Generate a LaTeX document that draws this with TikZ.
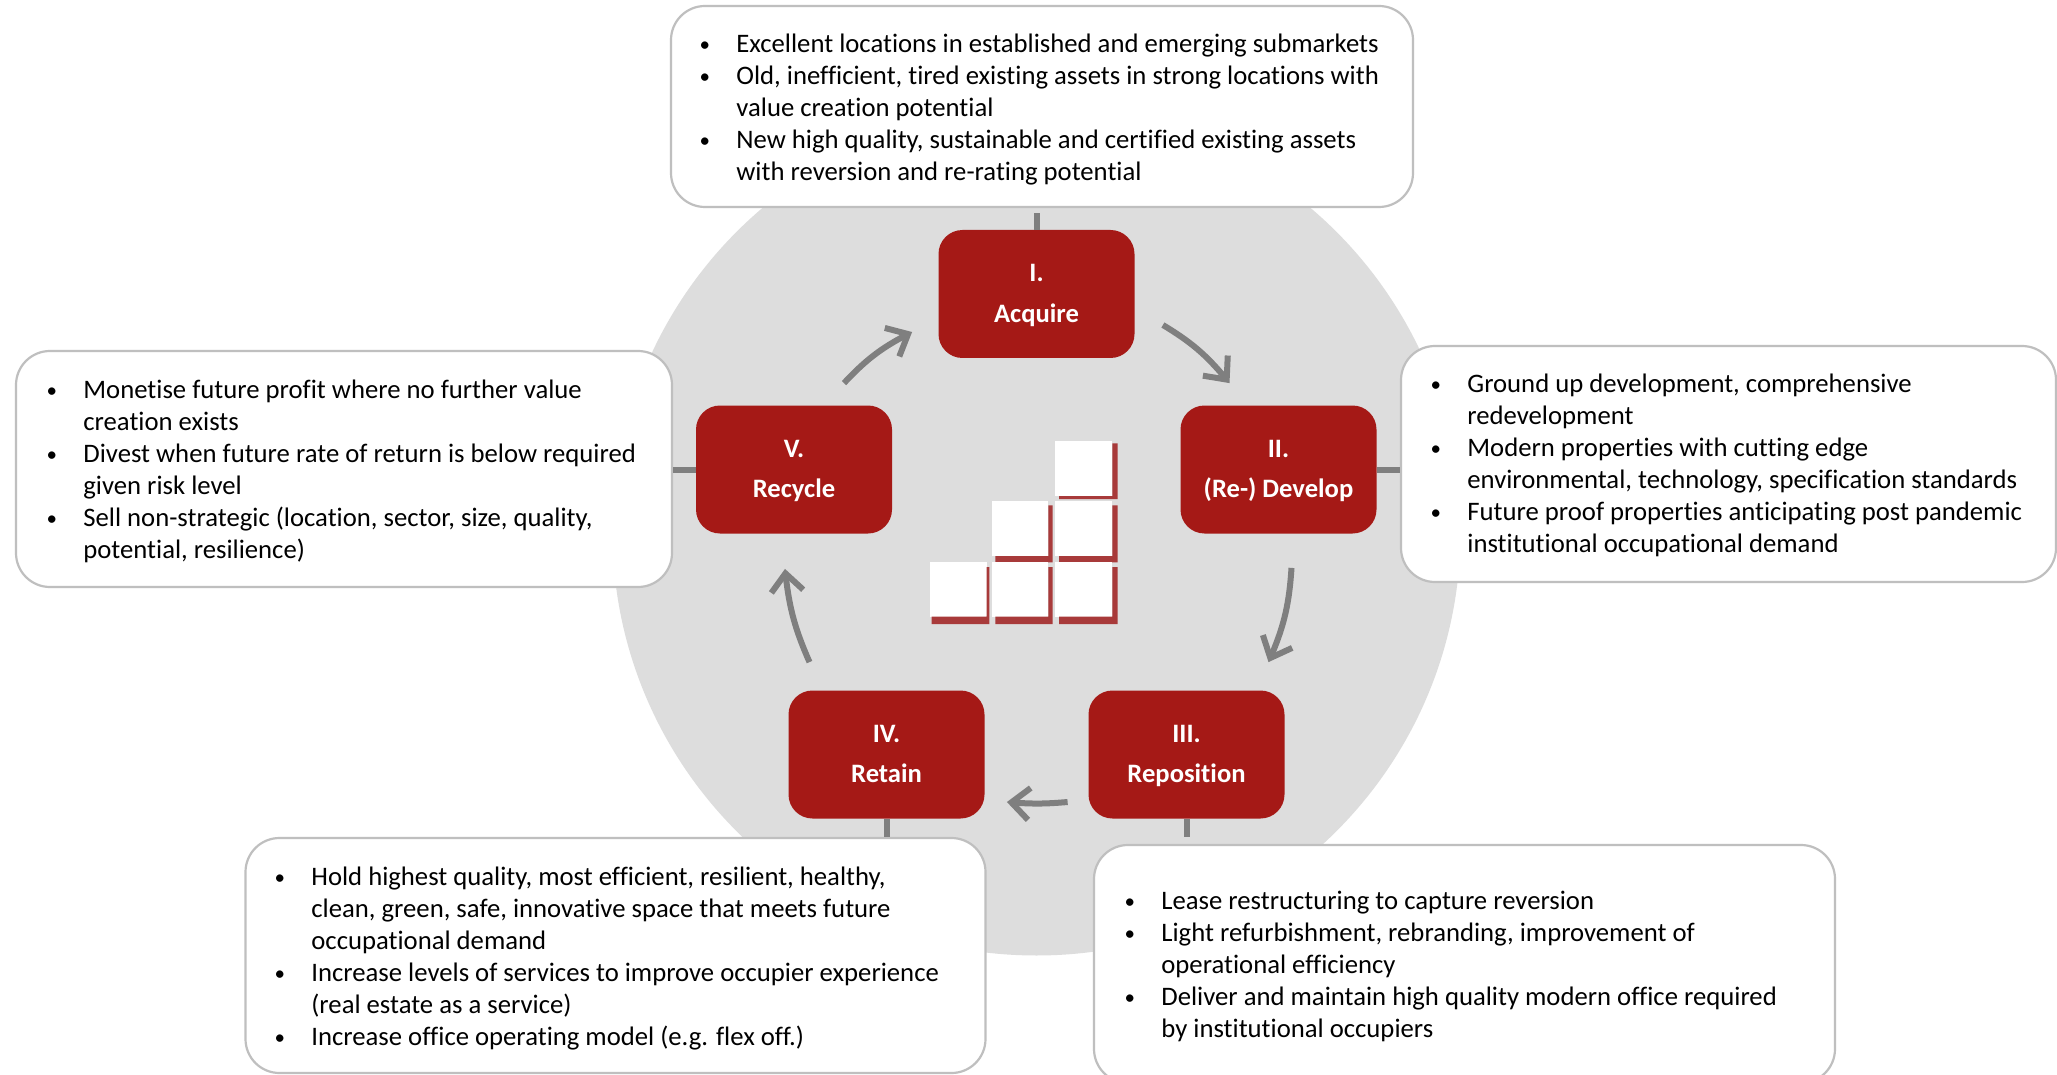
\documentclass[tikz,border=0pt]{standalone}
\usepackage{fontspec}
\setmainfont{Carlito}[Ligatures=NoCommon]
\usetikzlibrary{arrows.meta,calc,bending}
\definecolor{nodered}{HTML}{A51916}
\definecolor{logored}{HTML}{A83A3A}
\definecolor{disc}{HTML}{DDDDDD}
\definecolor{edge}{HTML}{BFBFBF}
\definecolor{conn}{HTML}{7F7F7F}
\newlength{\bulw}
\setlength{\bulw}{17pt}
\newcommand{\bul}{\rule{0pt}{10.5pt}\makebox[\bulw][l]{\hspace{-1.4pt}\raisebox{0.6pt}{\fontsize{10.5}{10}\selectfont •}}}
\newcommand{\cnt}{\hspace*{\bulw}}
\newcommand{\stagetext}[2]{\rule{0pt}{11pt}#1\\#2\rule[-3pt]{0pt}{3pt}}
\tikzset{
  x=0.5pt,y=-0.5pt,
  stage/.style={draw=none,fill=nodered,rounded corners=12pt,minimum width=98pt,minimum height=64pt,inner sep=0pt,text=white,font=\fontsize{13.3}{20.4}\selectfont\bfseries,align=center},
  panel/.style={draw=edge,line width=1.1pt,fill=white,rounded corners=17pt},
  panelsize/.style 2 args={minimum width=#1,minimum height=#2,inner sep=0pt},
  bodytext/.style={anchor=north west,inner sep=0pt,align=left,font=\fontsize{13.35}{16}\selectfont,text=black},
  stub/.style={draw=conn,line width=3pt},
  flow/.style={draw=conn,line width=3pt,-{Straight Barb[length=9pt,width=16pt,line width=3pt]}},
}
\begin{document}
\begin{tikzpicture}
\useasboundingbox (0,0) rectangle (2057,1075);
\fill[white] (0,0) rectangle (2057,1075);
\fill[disc] (1036.5,531.5) circle[radius=212pt];
% stages
\node[stage] (n1) at (1036.5,294) {\stagetext{I.}{Acquire}};
\node[stage] (n2) at (1278.5,469.5) {\stagetext{II.}{(Re-) Develop}};
\node[stage] (n3) at (1186.5,754.5) {\stagetext{III.}{Reposition}};
\node[stage] (n4) at (886.5,754.5) {\stagetext{IV.}{Retain}};
\node[stage] (n5) at (794,469.5) {\stagetext{V.}{Recycle}};
% panels
\node[panel,panelsize={371pt}{100.5pt}] (b1) at (1042,106.5) {};
\node[panel,panelsize={327.5pt}{118pt}] (b2) at (1728.5,464) {};
\node[panel,panelsize={370.5pt}{119pt}] (b3) at (1464.5,964) {};
\node[panel,panelsize={370pt}{117.5pt}] (b4) at (615.5,955.5) {};
\node[panel,panelsize={328pt}{118pt}] (b5) at (344,469) {};
% panel text
\node[bodytext] (t1) at (702,31) {\bul Excellent locations in established and emerging submarkets\\
\bul Old, inefficient, tired existing assets in strong locations with\\
\cnt value creation potential\\
\bul New high quality, sustainable and certified existing assets\\
\cnt with reversion and re-rating potential};
\node[bodytext] (t2) at (1433,371) {\bul Ground up development, comprehensive\\
\cnt redevelopment\\
\bul Modern properties with cutting edge\\
\cnt environmental, technology, specification standards\\
\bul Future proof properties anticipating post pandemic\\
\cnt institutional occupational demand};
\node[bodytext] (t3) at (1127,888) {\bul Lease restructuring to capture reversion\\
\bul Light refurbishment, rebranding, improvement of\\
\cnt operational efficiency\\
\bul Deliver and maintain high quality modern office required\\
\cnt by institutional occupiers};
\node[bodytext] (t4) at (277,864.5) {\bul Hold highest quality, most efficient, resilient, healthy,\\
\cnt clean, green, safe, innovative space that meets future\\
\cnt occupational demand\\
\bul Increase levels of services to improve occupier experience\\
\cnt (real estate as a service)\\
\bul Increase office operating model (e.g. flex off.)};
\node[bodytext] (t5) at (49,377.5) {\bul Monetise future profit where no further value\\
\cnt creation exists\\
\bul Divest when future rate of return is below required\\
\cnt given risk level\\
\bul Sell non-strategic (location, sector, size, quality,\\
\cnt potential, resilience)};
% stubs
\draw[stub,shorten >=2.5pt] (n1.north) -- (n1.north |- b1.south);
\draw[stub] (n2.east) -- (n2.east -| b2.west);
\draw[stub,shorten >=3.5pt] (n3.south) -- (n3.south |- b3.north);
\draw[stub] (n4.south) -- (n4.south |- b4.north);
\draw[stub] (n5.west) -- (n5.west -| b5.east);
% flow arrows
\draw[flow] ($(n5.north)+(50,-22)$) to[bend left=10] ($(n1.west)+(-26,38)$);
\draw[flow] ($(n1.east)+(28,31)$) to[bend left=10] ($(n2.north)+(-49,-22)$);
\draw[flow] ($(n2.south)+(13,34)$) to[bend left=10] ($(n3.north)+(82,-28)$);
\draw[flow] ($(n3.west)+(-20.5,47.5)$) to[bend left=5] ($(n4.east)+(22,47.5)$);
\draw[flow] ($(n4.north)+(-77,-28)$) to[bend left=9] ($(n5.south)+(-9,35)$);
% logo
\begin{scope}[shift={(900,420)},x=0.1667pt,y=-0.1667pt]
\foreach \xa/\xb/\xc/\xd/\ya/\yb/\yc/\yd in {
  465/637/653/477/63/228/237/70,
  465/637/653/477/243/408/427/256,
  465/637/653/477/425/590/612/441,
  275/445/458/286/243/408/427/256,
  275/445/458/286/425/590/612/441,
  90/260/268/95/425/590/612/441}{
  \fill[white] (\xa,\ya) rectangle (\xb,\yb);
  \fill[logored] (\xb,\yd) -- (\xc,\yd) -- (\xc,\yc) -- (\xd,\yc) -- (\xd,\yb) -- (\xb,\yb) -- cycle;
}
\end{scope}
\end{tikzpicture}
\end{document}
